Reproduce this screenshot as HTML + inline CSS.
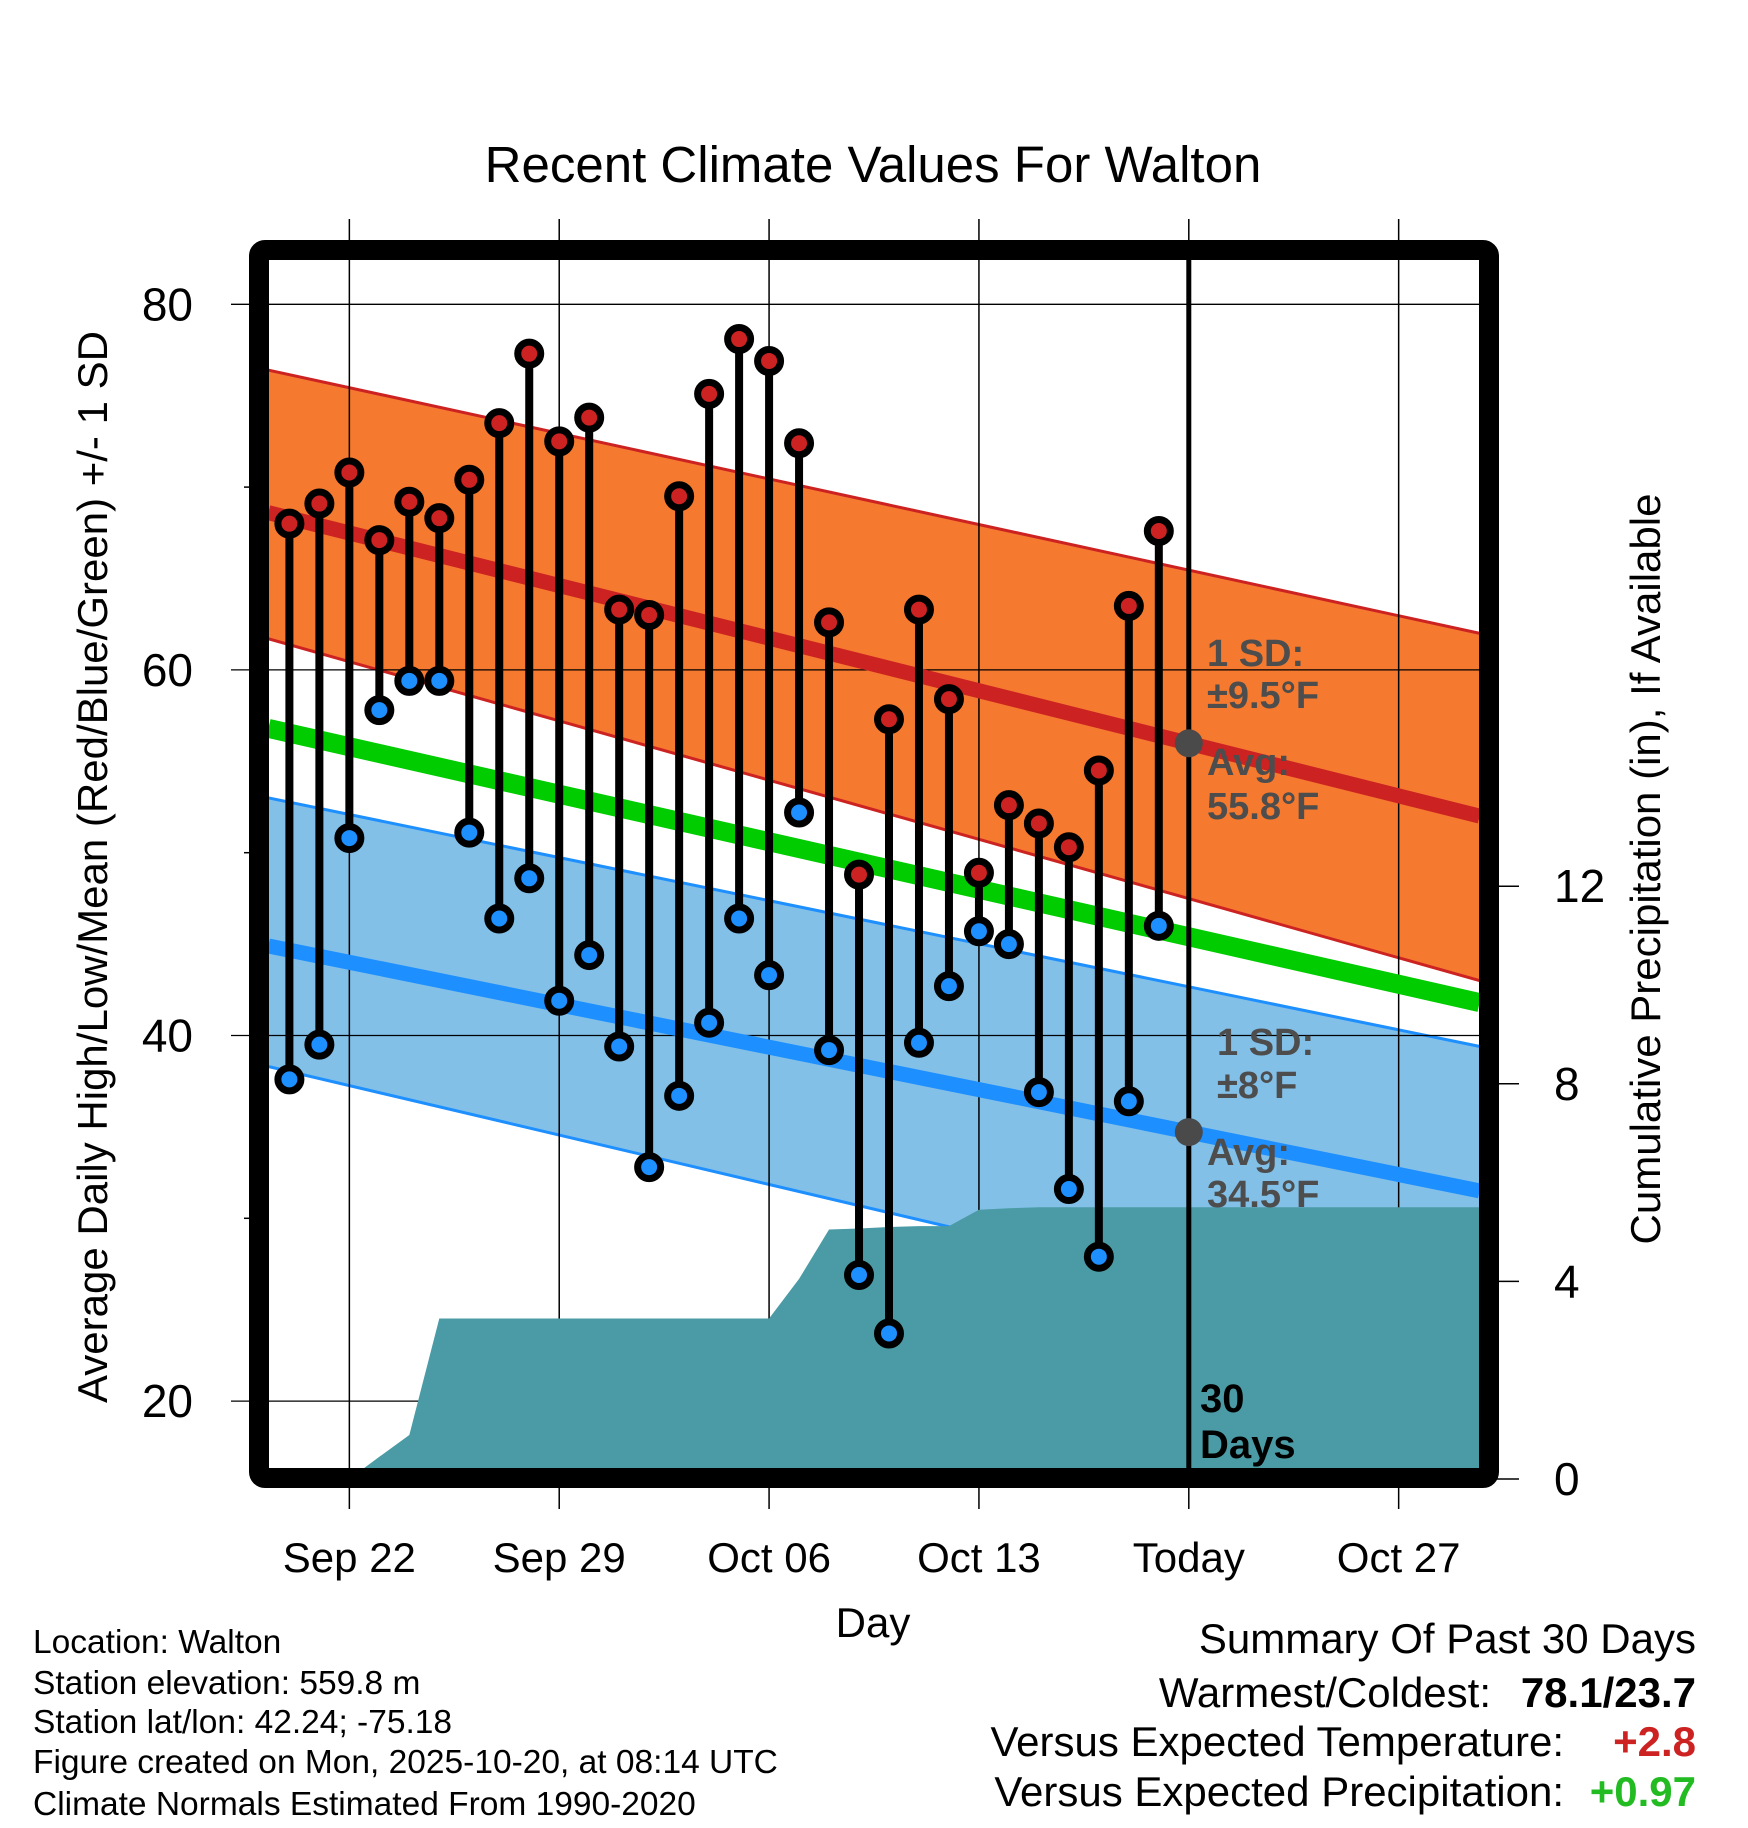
<!DOCTYPE html>
<html><head><meta charset="utf-8"><style>
html,body{margin:0;padding:0;background:#fff;}
svg{display:block;font-family:"Liberation Sans",Arial,sans-serif;}
</style></head><body>
<svg id="chart" width="1748" height="1828" viewBox="0 0 1748 1828" xmlns="http://www.w3.org/2000/svg">
<defs><clipPath id="plotclip"><rect x="269" y="260" width="1210" height="1208"/></clipPath></defs>
<text x="873" y="182" font-size="51" text-anchor="middle">Recent Climate Values For Walton</text>
<g id="bands" clip-path="url(#plotclip)"></g>
<g id="grid"></g>
<g id="precip" clip-path="url(#plotclip)"></g>
<g id="means" clip-path="url(#plotclip)"></g>
<g id="obs" clip-path="url(#plotclip)"></g>
<g id="annot"></g>
<rect x="259" y="250" width="1230" height="1228" rx="6" fill="none" stroke="#000" stroke-width="20"/>
<g id="axes"></g>
<text transform="translate(107,867) rotate(-90)" font-size="42" text-anchor="middle">Average Daily High/Low/Mean (Red/Blue/Green) +/- 1 SD</text>
<text transform="translate(1660,869) rotate(-90)" font-size="42" text-anchor="middle">Cumulative Precipitation (in), If Available</text>
<text x="873" y="1637" font-size="42" text-anchor="middle">Day</text>
<g font-size="33.5">
<text x="33" y="1653">Location: Walton</text>
<text x="33" y="1694">Station elevation: 559.8 m</text>
<text x="33" y="1733">Station lat/lon: 42.24; -75.18</text>
<text x="33" y="1773">Figure created on Mon, 2025-10-20, at 08:14 UTC</text>
<text x="33" y="1815">Climate Normals Estimated From 1990-2020</text>
</g>
<g font-size="42">
<text x="1696" y="1653" text-anchor="end">Summary Of Past 30 Days</text>
<text x="1491" y="1707" text-anchor="end">Warmest/Coldest:</text>
<text x="1696" y="1707" text-anchor="end" font-weight="bold">78.1/23.7</text>
<text x="1564" y="1756" text-anchor="end">Versus Expected Temperature:</text>
<text x="1696" y="1756" text-anchor="end" font-weight="bold" fill="#cc2222">+2.8</text>
<text x="1564" y="1806" text-anchor="end">Versus Expected Precipitation:</text>
<text x="1696" y="1806" text-anchor="end" font-weight="bold" fill="#22bb22">+0.97</text>
</g>
</svg>
<script>
const days = [0,1,2,3,4,5,6,7,8,9,10,11,12,13,14,15,16,17,18,19,20,21,22,23,24,25,26,27,28,29];
const highs = [68.0,69.1,70.8,67.1,69.2,68.3,70.4,73.5,77.3,72.5,73.8,63.3,63.0,69.5,75.1,78.1,76.9,72.4,62.6,48.8,57.3,63.3,58.4,48.9,52.6,51.6,50.3,54.5,63.5,67.6];
const lows = [37.6,39.5,50.8,57.8,59.4,59.4,51.1,46.4,48.6,41.9,44.4,39.4,32.8,36.7,40.7,46.4,43.3,52.2,39.2,26.9,23.7,39.6,42.7,45.7,45.0,36.9,31.6,27.9,36.4,46.0];
const precip = [0,0,0,0.45,0.89,3.25,3.25,3.25,3.25,3.25,3.25,3.25,3.25,3.25,3.25,3.25,3.25,4.05,5.05,5.07,5.1,5.12,5.12,5.45,5.48,5.5,5.5,5.5,5.5,5.5];
const normDays = [-0.7, 39.7];
const normHigh = [68.6, 52.0];
const normHighUp = [76.4, 62.0];
const normHighLo = [61.7, 43.0];
const normMean = [56.8, 41.8];
const normLow = [44.9, 31.5];
const normLowUp = [53.0, 39.4];
const normLowLo = [38.3, 22.7];
const xTickDays = [2,9,16,23,30,37];
const xTickLabels = ["Sep 22","Sep 29","Oct 06","Oct 13","Today","Oct 27"];
const yTicks = [80,60,40,20];
const yMinor = [70,50,30];
const pTicks = [0,4,8,12];
const todayDay = 30;

const NS = "http://www.w3.org/2000/svg";
const x = d => 289.4 + d*29.98;
const yT = t => 304.3 + (80-t)*18.28;
const yP = p => 1479 - p*49.4;
function mk(tag, parent, attrs){const e=document.createElementNS(NS,tag);for(const k in attrs)e.setAttribute(k,attrs[k]);parent.appendChild(e);return e;}
const gB=document.getElementById('bands'),gG=document.getElementById('grid'),gP=document.getElementById('precip'),gM=document.getElementById('means'),gO=document.getElementById('obs'),gA=document.getElementById('annot'),gX=document.getElementById('axes');

function band(up,lo,fill,edge,name){
  const pts=[[x(normDays[0]),yT(up[0])],[x(normDays[1]),yT(up[1])],[x(normDays[1]),yT(lo[1])],[x(normDays[0]),yT(lo[0])]];
  const p=mk('polygon',gB,{points:pts.map(q=>q.join(',')).join(' '),fill:fill});
  
  
  [up,lo].forEach(a=>{const l=mk('line',gB,{x1:x(normDays[0]),y1:yT(a[0]),x2:x(normDays[1]),y2:yT(a[1]),stroke:edge,'stroke-width':3});
    
    });
}
band(normHighUp,normHighLo,'#f5792e','#cc2222','high-sd-band');
band(normLowUp,normLowLo,'#82c0e8','#1e8fff','low-sd-band');

xTickDays.forEach(d=>{const l=mk('line',gG,{x1:x(d),x2:x(d),y1:219,y2:1509,stroke:'#000','stroke-width':1.5});
  
  });
yTicks.forEach(t=>{const l=mk('line',gG,{x1:231,x2:1479,y1:yT(t),y2:yT(t),stroke:'#000','stroke-width':1.3});
  
  });

let pp=[[x(days[0]),1500]];
days.forEach((d,i)=>pp.push([x(d),yP(precip[i])]));
pp.push([x(normDays[1]),yP(precip[precip.length-1])]);
pp.push([x(normDays[1]),1500]);
const pa=mk('polygon',gP,{points:pp.map(q=>q.join(',')).join(' '),fill:'#4a9ba5'});



[[normHigh,'#cc2222',15,'normal-high-line'],[normMean,'#00cc00',19,'normal-mean-line'],[normLow,'#1e8fff',15,'normal-low-line']].forEach(([a,c,w,n])=>{
  const l=mk('line',gM,{x1:x(normDays[0]),y1:yT(a[0]),x2:x(normDays[1]),y2:yT(a[1]),stroke:c,'stroke-width':w});
  
  
});

days.forEach((d,i)=>{
  const s=mk('line',gO,{x1:x(d),x2:x(d),y1:yT(highs[i]),y2:yT(lows[i]),stroke:'#000','stroke-width':8});
  
  
  const h=mk('circle',gO,{cx:x(d),cy:yT(highs[i]),r:11.5,fill:'#cc2222',stroke:'#000','stroke-width':7});
  
  
  const lo=mk('circle',gO,{cx:x(d),cy:yT(lows[i]),r:11.5,fill:'#1e8fff',stroke:'#000','stroke-width':7});
  
  
});

const interp=(a,d)=>a[0]+(a[1]-a[0])*(d-normDays[0])/(normDays[1]-normDays[0]);
const tl=mk('line',gA,{x1:x(todayDay),x2:x(todayDay),y1:260,y2:1468,stroke:'#000','stroke-width':5});


[normHigh,normLow].forEach(a=>{const c=mk('circle',gA,{cx:x(todayDay),cy:yT(interp(a,todayDay)),r:14,fill:'#4a4a4a'});
  
  });
const ann=[["1 SD:",1207,666],["±9.5°F",1207,708],["Avg:",1207,775],["55.8°F",1207,819],["1 SD:",1217,1055],["±8°F",1217,1098],["Avg:",1207,1165],["34.5°F",1207,1207]];
ann.forEach(([t,ax,ay])=>{const e=mk('text',gA,{x:ax,y:ay,'font-size':38,'font-weight':'bold',fill:'#4d4d4d'});e.textContent=t;
  
  });
[["30",1412],["Days",1458]].forEach(([t,ay])=>{const e=mk('text',gA,{x:1200,y:ay,'font-size':40,'font-weight':'bold',fill:'#000'});e.textContent=t;
  
  });

yTicks.forEach(t=>{const e=mk('text',gX,{x:193,y:yT(t)+16,'font-size':46,'text-anchor':'end'});e.textContent=t;
  
  });
yMinor.forEach(t=>{const l=mk('line',gX,{x1:244,x2:260,y1:yT(t),y2:yT(t),stroke:'#000','stroke-width':1.5});
  
  });
pTicks.forEach(p=>{const l=mk('line',gX,{x1:1489,x2:1519,y1:yP(p),y2:yP(p),stroke:'#000','stroke-width':1.5});
  
  
  const e=mk('text',gX,{x:1554,y:yP(p)+16,'font-size':46});e.textContent=p;
  
  });
xTickDays.forEach((d,i)=>{const e=mk('text',gX,{x:x(d),y:1572,'font-size':42,'text-anchor':'middle'});e.textContent=xTickLabels[i];
  
  });
</script>
</body></html>
